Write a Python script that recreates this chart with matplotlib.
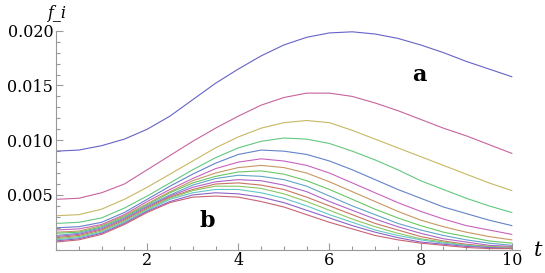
import colorsys
import numpy as np
import matplotlib
matplotlib.use("Agg")
import matplotlib.pyplot as plt
from matplotlib.ticker import MultipleLocator, FixedLocator

# sample times
t = np.arange(0, 10.01, 0.5)

# f_i(t), top curve (a) to bottom curve (b)
f1 = [0.0090, 0.0091, 0.0095, 0.0101, 0.0110, 0.0122, 0.0137, 0.0152, 0.0165, 0.0177, 0.0187,
      0.0194, 0.0198, 0.0199, 0.0197, 0.0193, 0.0187, 0.0180, 0.0172, 0.0165, 0.0158]
f2 = [0.0046, 0.0047, 0.0052, 0.0060, 0.0073, 0.0086, 0.0099, 0.0111, 0.0122, 0.0132, 0.0139,
      0.0143, 0.0143, 0.0140, 0.0134, 0.0127, 0.0119, 0.0111, 0.0104, 0.0096, 0.0088]
f3 = [0.0031, 0.0032, 0.0037, 0.0046, 0.0057, 0.0069, 0.0081, 0.0093, 0.0103, 0.0111, 0.0116,
      0.0118, 0.0116, 0.0109, 0.0101, 0.0093, 0.0085, 0.0077, 0.0069, 0.0061, 0.0054]
f4 = [0.0024, 0.0025, 0.0029, 0.0038, 0.0049, 0.0061, 0.0073, 0.0084, 0.0093, 0.0099, 0.0102,
      0.0101, 0.0097, 0.0090, 0.0082, 0.0073, 0.0063, 0.0055, 0.0047, 0.0040, 0.0034]
f5 = [0.0020, 0.0021, 0.0025, 0.0034, 0.0046, 0.0058, 0.0069, 0.0079, 0.0087, 0.0091, 0.0090,
      0.0087, 0.0081, 0.0073, 0.0064, 0.0055, 0.0047, 0.0039, 0.0033, 0.0027, 0.0022]
f6 = [0.0018, 0.0019, 0.0023, 0.0032, 0.0044, 0.0055, 0.0065, 0.0074, 0.0080, 0.0083, 0.0081,
      0.0077, 0.0070, 0.0061, 0.0052, 0.0043, 0.0035, 0.0028, 0.0022, 0.0018, 0.0014]
f7 = [0.0016, 0.0017, 0.0022, 0.0031, 0.0042, 0.0053, 0.0063, 0.0070, 0.0075, 0.0077, 0.0075,
      0.0070, 0.0062, 0.0053, 0.0044, 0.0035, 0.0027, 0.0021, 0.0016, 0.0012, 0.0009]
f8 = [0.0015, 0.0016, 0.0021, 0.0030, 0.0041, 0.0052, 0.0061, 0.0067, 0.0071, 0.0072, 0.0069,
      0.0063, 0.0055, 0.0046, 0.0037, 0.0029, 0.0022, 0.0016, 0.0012, 0.0008, 0.0006]
f9 = [0.0013, 0.0015, 0.0020, 0.0029, 0.0040, 0.0050, 0.0059, 0.0065, 0.0068, 0.0067, 0.0064,
      0.0058, 0.0049, 0.0040, 0.0032, 0.0024, 0.0018, 0.0013, 0.0009, 0.0006, 0.0004]
f10 = [0.0012, 0.0014, 0.0019, 0.0028, 0.0039, 0.0049, 0.0057, 0.0062, 0.0064, 0.0063, 0.0059,
       0.0053, 0.0044, 0.0036, 0.0028, 0.0021, 0.0015, 0.0010, 0.0007, 0.0004, 0.0003]
f11 = [0.0011, 0.0013, 0.0018, 0.0027, 0.0038, 0.0048, 0.0055, 0.0060, 0.0061, 0.0059, 0.0055,
       0.0048, 0.0040, 0.0032, 0.0024, 0.0018, 0.0012, 0.0008, 0.0005, 0.0003, 0.0002]
f12 = [0.0010, 0.0012, 0.0017, 0.0026, 0.0037, 0.0047, 0.0054, 0.0058, 0.0058, 0.0056, 0.0051,
       0.0044, 0.0036, 0.0028, 0.0021, 0.0015, 0.0010, 0.0007, 0.0004, 0.0003, 0.00015]
f13 = [0.0009, 0.0011, 0.0016, 0.0025, 0.0036, 0.0046, 0.0052, 0.0055, 0.0055, 0.0052, 0.0047,
       0.0040, 0.0032, 0.0025, 0.0018, 0.0013, 0.0009, 0.0006, 0.0004, 0.0002, 0.0001]
f14 = [0.0008, 0.0010, 0.0015, 0.0024, 0.0035, 0.0044, 0.0050, 0.0052, 0.0051, 0.0048, 0.0043,
       0.0036, 0.0029, 0.0022, 0.0016, 0.0011, 0.0007, 0.0005, 0.0003, 0.0002, 0.0001]
f15 = [0.0007, 0.0009, 0.0014, 0.0023, 0.0034, 0.0043, 0.0048, 0.0049, 0.0048, 0.0044, 0.0039,
       0.0032, 0.0025, 0.0019, 0.0013, 0.0009, 0.0006, 0.0004, 0.0002, 0.0001, 0.0001]
curves = [f1, f2, f3, f4, f5, f6, f7, f8, f9, f10, f11, f12, f13, f14, f15]

# old Mathematica default hues
hues = [0.67, 0.906, 0.142, 0.378, 0.614, 0.85, 0.086, 0.322,
        0.558, 0.794, 0.030, 0.266, 0.502, 0.738, 0.974]

serif = "DejaVu Serif"
fig = plt.figure(figsize=(5.45, 2.73), dpi=100)
ax = fig.add_axes([56 / 545, 23.3 / 273, 464 / 545, 219.2 / 273])

for f, h in zip(curves, hues):
    ax.plot(t, f, color=colorsys.hsv_to_rgb(h, 0.5, 0.78), lw=0.8)

ax.set_xlim(0, 10.18)
ax.set_ylim(0, 0.02002)
for s in ["top", "right"]:
    ax.spines[s].set_visible(False)
for s in ["left", "bottom"]:
    ax.spines[s].set_color("#999999")
    ax.spines[s].set_linewidth(0.8)

ax.xaxis.set_major_locator(FixedLocator([2, 4, 6, 8, 10]))
ax.xaxis.set_minor_locator(MultipleLocator(0.5))
ax.yaxis.set_major_locator(FixedLocator([0.005, 0.010, 0.015, 0.020]))
ax.yaxis.set_minor_locator(MultipleLocator(0.001))
ax.set_yticklabels(["0.005", "0.010", "0.015", "0.020"])
ax.tick_params(which="both", direction="in", color="#999999", width=0.8)
ax.tick_params(which="major", length=5, labelsize=11.5, pad=2)
ax.tick_params(which="minor", length=3)
for lab in ax.get_xticklabels() + ax.get_yticklabels():
    lab.set_family(serif)

ax.text(0.03, 0.0216, "f_i", family=serif, style="italic", fontsize=11.5, ha="center", va="center")
fig.text(538 / 545, 1 - 251 / 273, "t", family=serif, style="italic", fontsize=15, ha="center", va="center")
ax.text(7.96, 0.0160, "a", family=serif, weight="bold", fontsize=16, ha="center", va="center")
ax.text(3.32, 0.0026, "b", family=serif, weight="bold", fontsize=16, ha="center", va="center")

ax.set_clip_on(False)
fig.savefig("out.png", dpi=100)
